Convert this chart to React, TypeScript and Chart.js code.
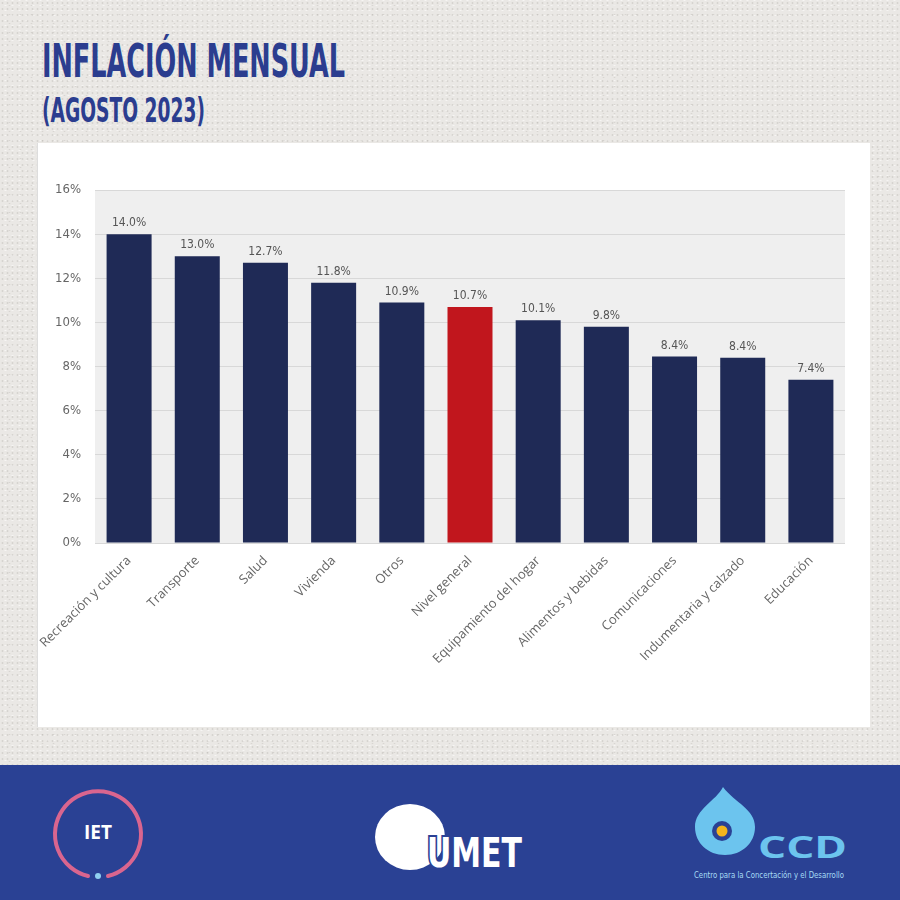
import React, { useEffect, useRef } from "react";
import { Chart, registerables } from "chart.js";

Chart.register(...registerables);

const categories = [
  "Recreación y cultura",
  "Transporte",
  "Salud",
  "Vivienda",
  "Otros",
  "Nivel general",
  "Equipamiento del hogar",
  "Alimentos y bebidas",
  "Comunicaciones",
  "Indumentaria y calzado",
  "Educación",
];
const values = [14.0, 13.0, 12.7, 11.8, 10.9, 10.7, 10.1, 9.8, 8.45, 8.4, 7.4];
const valueLabels = ["14.0%", "13.0%", "12.7%", "11.8%", "10.9%", "10.7%", "10.1%", "9.8%", "8.4%", "8.4%", "7.4%"];
const highlighted = "Nivel general";
const yMin = 0;
const yMax = 16;
const yStep = 2;

const NAVY = "#1f2a56";
const RED = "#c1161d";

const plotBgPlugin = {
  id: "plotBg",
  beforeDraw(chart: any) {
    const { ctx, chartArea } = chart;
    ctx.save();
    ctx.fillStyle = "#efefef";
    ctx.fillRect(chartArea.left, chartArea.top, chartArea.right - chartArea.left, chartArea.bottom - chartArea.top);
    ctx.restore();
  },
};

const valueLabelPlugin = {
  id: "valueLabels",
  afterDatasetsDraw(chart: any) {
    const { ctx } = chart;
    const meta = chart.getDatasetMeta(0);
    ctx.save();
    ctx.fillStyle = "#555";
    ctx.font = "12px 'DejaVu Sans Condensed', Roboto, sans-serif";
    ctx.textAlign = "center";
    ctx.textBaseline = "bottom";
    meta.data.forEach((bar: any, i: number) => {
      ctx.fillText(valueLabels[i], bar.x, bar.y - 5);
    });
    ctx.restore();
  },
};

function BarChart() {
  const ref = useRef<HTMLCanvasElement | null>(null);
  useEffect(() => {
    if (!ref.current) return;
    const chart = new Chart(ref.current, {
      type: "bar",
      data: {
        labels: categories,
        datasets: [
          {
            data: values,
            backgroundColor: categories.map((c) => (c === highlighted ? RED : NAVY)),
            barPercentage: 0.66,
            categoryPercentage: 1,
          },
        ],
      },
      options: {
        responsive: false,
        animation: false,
        layout: { padding: { top: 47, right: 25, left: 0, bottom: 0 } },
        plugins: { legend: { display: false }, tooltip: { enabled: false } },
        scales: {
          x: {
            grid: { display: false },
            border: { display: false },
            ticks: {
              color: "#666666",
              font: { family: "'Open Sans', sans-serif", size: 13, weight: 400 as any },
              minRotation: 45,
              maxRotation: 45,
              padding: 2,
              autoSkip: false,
            },
            afterFit(scale: any) {
              scale.height = 185;
              scale.paddingLeft = 0;
              scale.paddingRight = 0;
            },
          },
          y: {
            min: yMin,
            max: yMax,
            grid: { color: "#d8d8d8", drawTicks: false, lineWidth: 1 },
            border: { display: false },
            ticks: {
              stepSize: yStep,
              color: "#666",
              padding: 14,
              font: { family: "'DejaVu Sans Condensed', Roboto, sans-serif", size: 13 },
              callback: (v: any) => `${v}%`,
            },
            afterFit(scale: any) {
              scale.width = 57;
            },
          },
        },
      },
      plugins: [plotBgPlugin, valueLabelPlugin],
    });
    return () => chart.destroy();
  }, []);
  return <canvas ref={ref} width={832} height={585} style={{ width: 832, height: 585, display: "block" }} />;
}

export default function App() {
  return (
    <div
      style={{
        position: "fixed",
        left: 0,
        top: 0,
        width: 900,
        height: 900,
        overflow: "hidden",
        background: "#eae8e5",
        backgroundImage:
          "radial-gradient(rgba(170,166,160,0.30) 0.8px, transparent 1.2px), radial-gradient(rgba(255,255,255,0.55) 0.8px, transparent 1.2px), radial-gradient(rgba(150,146,140,0.22) 0.7px, transparent 1.1px)",
        backgroundSize: "5px 6px, 7px 5px, 11px 9px",
        backgroundPosition: "0 0, 2px 3px, 4px 1px",
      }}
    >
      <svg width={900} height={900} style={{ position: "absolute", left: 0, top: 0 }}>
        <text
          x={42}
          y={77}
          fontFamily="'DejaVu Sans Condensed', 'Liberation Sans Narrow', sans-serif"
          fontWeight="bold"
          fontSize={46}
          fill="#2b3d8f"
          textLength={303}
          lengthAdjust="spacingAndGlyphs"
        >
          INFLACIÓN MENSUAL
        </text>
        <text
          x={42}
          y={122}
          fontFamily="'DejaVu Sans Condensed', 'Liberation Sans Narrow', sans-serif"
          fontWeight="bold"
          fontSize={34}
          fill="#2b3d8f"
          textLength={163}
          lengthAdjust="spacingAndGlyphs"
        >
          (AGOSTO 2023)
        </text>
      </svg>

      <div
        style={{
          position: "absolute",
          left: 37,
          top: 143,
          width: 833,
          height: 584,
          background: "#ffffff",
          borderLeft: "1px solid #dddddd",
          boxSizing: "border-box",
        }}
      />
      <div style={{ position: "absolute", left: 38, top: 143 }}>
        <BarChart />
      </div>

      <div style={{ position: "absolute", left: 0, top: 765, width: 900, height: 135, background: "#2a4194" }}>
        <svg width={900} height={135} style={{ position: "absolute", left: 0, top: 0 }}>
          {/* IET */}
          <path
            d="M 88 111 A 43 43 0 1 1 108 111"
            fill="none"
            stroke="#d9658f"
            strokeWidth={4}
            strokeLinecap="round"
          />
          <circle cx={98} cy={111} r={3} fill="#8fd0f0" />
          <text x={98} y={74} textAnchor="middle" fill="#ffffff" fontFamily="'Open Sans', sans-serif" fontWeight="bold" fontSize={19}>
            IET
          </text>
          {/* UMET */}
          <ellipse cx={410} cy={72} rx={35} ry={33} fill="#ffffff" />
          <text
            x={427}
            y={102}
            fill="#ffffff"
            stroke="#2a4194"
            strokeWidth={4}
            paintOrder="stroke"
            fontFamily="'DejaVu Sans Condensed', sans-serif"
            fontWeight="bold"
            fontSize={40}
            textLength={95}
            lengthAdjust="spacingAndGlyphs"
          >
            UMET
          </text>
          {/* CCD */}
          <path d="M 723 22 C 716 36 695 44 695 62 C 695 78 708 90 725 90 C 742 90 755 78 755 62 C 755 44 735 38 723 22 Z" fill="#6cc4ee" />
          <circle cx={722} cy={66} r={10} fill="#2a4194" />
          <circle cx={722} cy={66} r={5.5} fill="#f3b41c" />
          <text
            x={758}
            y={93}
            fill="#6cc4ee"
            fontFamily="'Open Sans', sans-serif"
            fontWeight="bold"
            fontSize={31}
            textLength={89}
            lengthAdjust="spacingAndGlyphs"
          >
            CCD
          </text>
          <text
            x={694}
            y={113}
            fill="#a8dcf5"
            fontFamily="'Liberation Sans Narrow', 'DejaVu Sans Condensed', sans-serif"
            fontSize={8.5}
            textLength={150}
            lengthAdjust="spacingAndGlyphs"
          >
            Centro para la Concertación y el Desarrollo
          </text>
        </svg>
      </div>
    </div>
  );
}
